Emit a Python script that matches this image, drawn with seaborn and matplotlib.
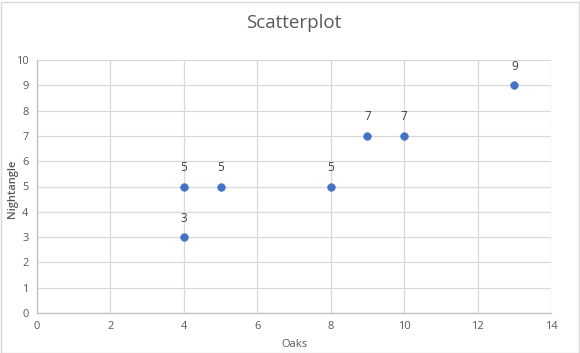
import pandas as pd
import seaborn as sns
import matplotlib.pyplot as plt
from matplotlib.patches import Rectangle

oaks = [4, 4, 5, 8, 9, 10, 13]
nightangle = [5, 3, 5, 5, 7, 7, 9]
x_ticks = [0, 2, 4, 6, 8, 10, 12, 14]
y_ticks = list(range(0, 11))

df = pd.DataFrame({'Oaks': oaks, 'Nightangle': nightangle})

sns.set_theme(style='white')
plt.rcParams['font.family'] = ['Open Sans', 'DejaVu Sans']

fig = plt.figure(figsize=(5.8, 3.53), dpi=100)
ax = fig.add_axes([37 / 580, 1 - 313 / 353, (551 - 37) / 580, (313 - 60) / 353])

grid_col = '#d9d9d9'
text_col = '#595959'

sns.scatterplot(data=df, x='Oaks', y='Nightangle', ax=ax, color='#4472c4',
                s=30, edgecolor='#4472c4', linewidth=0.5, zorder=3)

# value labels above each point
for xv, yv in zip(oaks, nightangle):
    ax.annotate(f'{yv}', (xv, yv), xytext=(0, 9), textcoords='offset points',
                ha='center', va='bottom', fontsize=8.5, color='#404040')

ax.set_xlim(0, 14)
ax.set_ylim(0, 10)
ax.set_xticks(x_ticks)
ax.set_yticks(y_ticks)
ax.grid(True, color=grid_col, linewidth=0.9)
ax.set_axisbelow(True)
for side in ['top', 'right']:
    ax.spines[side].set_visible(False)
for side in ['left', 'bottom']:
    ax.spines[side].set_color('#bfbfbf')
    ax.spines[side].set_linewidth(0.9)
ax.tick_params(axis='both', length=0, labelsize=8, colors=text_col, pad=6)

ax.set_xlabel('Oaks', fontsize=8, color=text_col, labelpad=5)
ax.set_ylabel('Nightangle', fontsize=8, color=text_col, fontweight='semibold')
ax.yaxis.set_label_coords(-0.036, 0.49)
ax.set_title('Scatterplot', fontsize=13.5, color=text_col, pad=23)

fig.patches.append(Rectangle((0.5 / 580, 0.5 / 353), 578 / 580, 351 / 353,
                             transform=fig.transFigure, fill=False,
                             edgecolor='#d9d9d9', linewidth=1))

fig.savefig('out.png', dpi=100)
